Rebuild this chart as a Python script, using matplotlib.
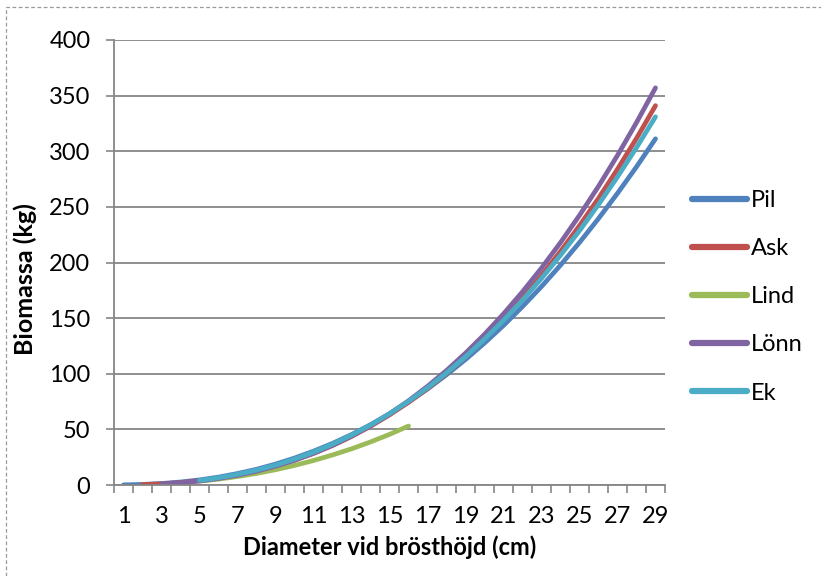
import matplotlib.pyplot as plt
from matplotlib.patches import Rectangle

plt.rcParams['font.family'] = ['Lato', 'DejaVu Sans']

diam = list(range(1, 30))

pil = [0.10, 0.51, 1.34, 2.68, 4.58, 7.09, 10.3, 14.1, 18.8, 24.2, 30.4, 37.4, 45.3, 54.2, 64.0,
       74.7, 86.3, 99.1, 112.8, 127.6, 143.4, 160.4, 178.4, 197.6, 218.0, 239.5, 262.2, 286.0, 311.2]
ask = [None, 0.36, 1.02, 2.13, 3.77, 6.01, 8.92, 12.56, 17.0, 22.3, 28.4, 35.5, 43.6, 52.8, 63.0,
       74.3, 86.7, 100.4, 115.4, 131.6, 149.1, 167.9, 188.3, 210.0, 233.1, 257.7, 283.9, 311.6, 341.0]
lind = [None, None, None, None, 3.45, 5.29, 7.60, 10.4, 13.7, 17.6, 22.0, 27.0, 32.5, 38.7, 45.5,
        53.0] + [None] * 13
lonn = [None, None, 0.96, 2.04, 3.64, 5.87, 8.76, 12.41, 16.9, 22.2, 28.5, 35.7, 44.0, 53.4, 64.0,
        75.7, 88.7, 102.9, 118.5, 135.4, 153.8, 173.7, 195.0, 217.9, 242.4, 268.5, 296.3, 325.8, 357.0]
ek = [None, None, None, None, 4.14, 6.52, 9.57, 13.35, 17.9, 23.3, 29.5, 36.7, 44.8, 53.9, 64.0,
      75.2, 87.4, 100.8, 115.3, 131.1, 148.0, 166.2, 185.7, 206.5, 228.6, 252.1, 277.0, 303.3, 331.0]

series = [("Pil", pil, "#4F81BD"), ("Ask", ask, "#C0504D"), ("Lind", lind, "#9BBB59"),
          ("Lönn", lonn, "#8064A2"), ("Ek", ek, "#4BACC6")]

fig = plt.figure(figsize=(8.21, 5.76), dpi=100)
ax = fig.add_axes([114 / 821, 1 - 485 / 576, 551 / 821, 445 / 576])

for name, vals, col in series:
    xs = [d for d, v in zip(diam, vals) if v is not None]
    ys = [v for v in vals if v is not None]
    ax.plot(xs, ys, color=col, lw=3.4, solid_capstyle='round', label=name)

ax.set_xlim(0.5, 29.5)
ax.set_ylim(0, 400)
ax.set_yticks(range(0, 401, 50))
ax.set_xticks([i + 0.5 for i in range(0, 30)])
ax.set_xticklabels([])
ax.set_xticks(diam[::2], minor=True)
ax.set_xticklabels([str(d) for d in diam[::2]], minor=True)
ax.tick_params(axis='x', which='major', length=5.5, width=1.2, color='#868686', direction='out')
ax.tick_params(axis='x', which='minor', length=0, pad=15, labelsize=17)
ax.tick_params(axis='y', length=6, width=1.2, color='#868686', labelsize=17, pad=11)
ax.grid(axis='y', color='#868686', lw=1.3)
ax.set_axisbelow(True)
for s in ['top', 'right']:
    ax.spines[s].set_visible(False)
for s in ['left', 'bottom']:
    ax.spines[s].set_color('#868686')
    ax.spines[s].set_linewidth(1.3)

ax.set_xlabel("Diameter vid brösthöjd (cm)", fontsize=17, fontweight='bold', labelpad=6.5)
ax.set_ylabel("Biomassa (kg)", fontsize=18, fontweight='bold')
ax.yaxis.set_label_coords(-0.14, 0.463)

leg = fig.legend(loc='upper left', bbox_to_anchor=(692 / 821, 1 - 190 / 576), frameon=False,
                 borderpad=0, borderaxespad=0, fontsize=17, handlelength=2.33,
                 handletextpad=0.17, labelspacing=1.15)
for h in leg.get_lines():
    h.set_linewidth(4.5)
    h.set_solid_capstyle('round')

fig.patches.append(Rectangle((6 / 821, -0.01), 1.0, 1 - 7 / 576 + 0.01, transform=fig.transFigure,
                             fill=False, ls=(0, (3, 2)), lw=0.9, ec='#999999'))

fig.savefig("out.png", dpi=100)
